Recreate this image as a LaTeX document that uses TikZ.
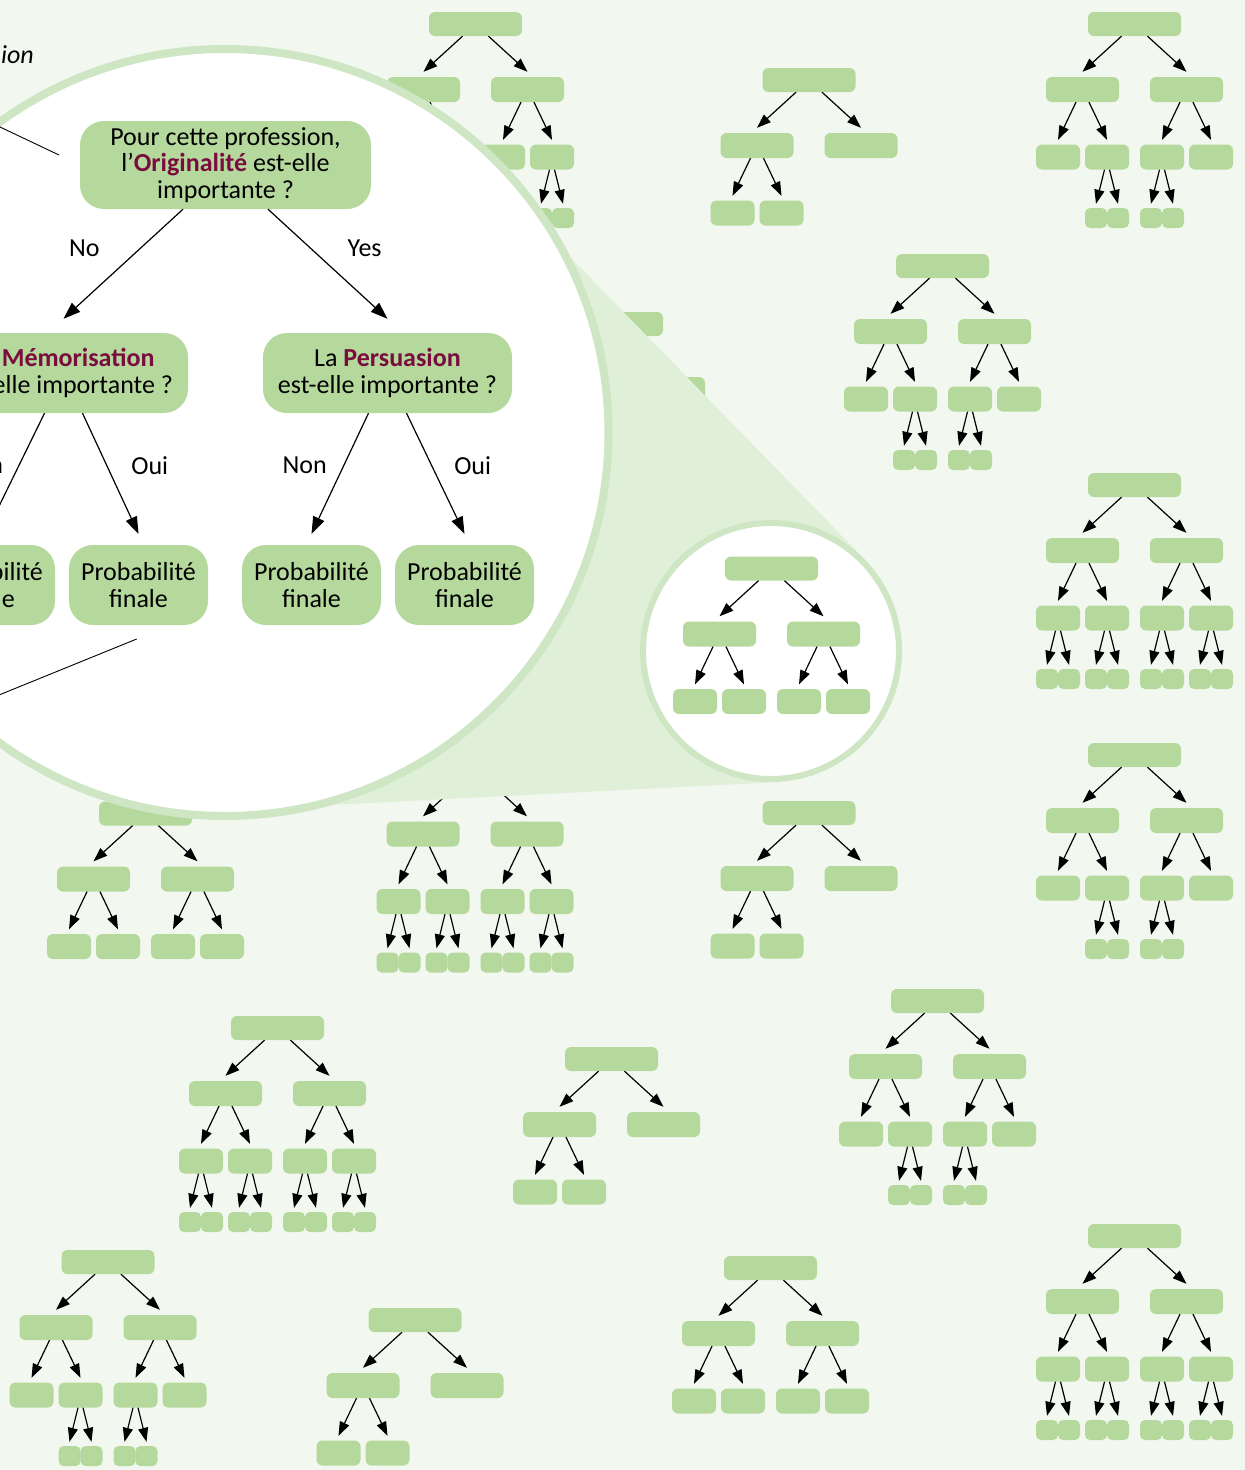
\documentclass[tikz,border=0pt]{standalone}
\usepackage{fontspec}
\setmainfont{Carlito}
\usetikzlibrary{arrows.meta}
\definecolor{bggreen}{RGB}{242,247,239}
\definecolor{boxgreen}{RGB}{181,217,156}
\definecolor{conegreen}{RGB}{224,239,216}
\definecolor{ringgreen}{RGB}{206,230,196}
\definecolor{plum}{RGB}{122,12,62}
\newcommand{\boxfont}{\fontsize{26}{26.5}\selectfont}
\newcommand{\hl}[1]{\textcolor{plum}{\textbf{#1}}}
\tikzset{
  rootbox/.style={fill=boxgreen, rounded corners=6pt, inner sep=0pt,
    minimum width=93pt, minimum height=24pt},
  kidbox/.style={rootbox, minimum width=73pt, minimum height=25pt},
  gkidbox/.style={rootbox, minimum width=44pt, minimum height=25pt},
  leafbox/.style={rootbox, rounded corners=5pt, minimum width=22pt, minimum height=20pt},
  branch/.style={line width=1.2pt, -{Triangle[length=14pt,width=10pt]}},
  qbox/.style={fill=boxgreen, rounded corners=24pt, align=center, font=\boxfont, inner sep=0pt},
  endbox/.style={qbox, minimum width=139pt, minimum height=80pt},
  bigbranch/.style={line width=1.2pt, -{Triangle[length=17pt,width=12pt]}},
  answer/.style={font=\boxfont, inner sep=0pt},
  ring/.style={draw=ringgreen, fill=white}
}
% one split: parent, child style, dx, dy, start offset, gap
\newcommand{\treefork}[6]{%
  \node[#2] (#1l) at ([shift={(-#3,#4)}]#1.center) {};
  \node[#2] (#1r) at ([shift={(#3,#4)}]#1.center) {};
  \draw[branch] ([xshift=-#5pt]#1.south) -- ([yshift=#6pt]#1l.north);
  \draw[branch] ([xshift=#5pt]#1.south) -- ([yshift=#6pt]#1r.north);
}
\newcommand{\treeA}[3]{%
  \node[rootbox] (#1) at (#2,#3) {};
  \treefork{#1}{kidbox}{52}{65.5}{13}{5}
  \treefork{#1l}{gkidbox}{24.5}{67.5}{6.5}{4.5}
}
\newcommand{\treeB}[3]{%
  \treeA{#1}{#2}{#3}
  \treefork{#1r}{gkidbox}{24.5}{67.5}{6.5}{4.5}
}
\newcommand{\treeC}[3]{%
  \treeB{#1}{#2}{#3}
  \treefork{#1lr}{leafbox}{11}{61}{2.5}{4}
  \treefork{#1rl}{leafbox}{11}{61}{2.5}{4}
}
\newcommand{\treeD}[3]{%
  \treeC{#1}{#2}{#3}
  \treefork{#1ll}{leafbox}{11}{61}{2.5}{4}
  \treefork{#1rr}{leafbox}{11}{61}{2.5}{4}
}

\begin{document}
\begin{tikzpicture}[x=1pt,y=-1pt]
      \useasboundingbox (0,0) rectangle (1245,1470);
      \clip (0,0) rectangle (1245,1470);
      \fill[bggreen] (0,0) rectangle (1245,1470);
      \node[font=\boxfont\itshape, anchor=base east, inner sep=0pt] (caption) at (34,63) {ion};

      % the forest
      \treeD{t1}{475.5}{24}
      \treeA{t2}{809}{80}
      \treeC{t3}{1134.5}{24}
      \treeC{t4}{942.5}{266}
      \treeB{t18}{616.5}{324}
      \treeD{t5}{1134.5}{485}
      \treeC{t7}{1134.5}{755}
      \treeA{t8}{809}{813}
      \treeD{t9}{475}{768.5}
      \treeB{t10}{145.5}{813.5}
      \treeD{t11}{277.5}{1028}
      \treeA{t12}{611.5}{1059}
      \treeC{t13}{937.5}{1001}
      \treeD{t14}{1134.5}{1236}
      \treeC{t15}{108}{1262}
      \treeA{t16}{415}{1320}
      \treeB{t17}{770.5}{1268}

      % magnifier
      \fill[conegreen] (523,209) -- (864.8,559.5) -- (778,782) -- (280,807.6) -- cycle;
      \draw[ring, line width=8pt] (225,432.5) circle (383.5pt);
      \draw[ring, line width=6pt] (771,651) circle (128pt);
      \treeB{t6}{771.5}{568.5}

      % zoomed tree
      \node[qbox, minimum width=291pt, minimum height=88pt] (q0) at (225.5,165)
        {Pour cette profession,\\l’\hl{Originalité} est-elle\\importante ?};
      \node[qbox, minimum width=249pt, minimum height=80pt] (q1) at (63.5,373)
        {La \hl{Mémorisation}\\est-elle importante ?};
      \node[qbox, minimum width=249pt, minimum height=80pt] (q2) at (387.5,373)
        {La \hl{Persuasion}\\est-elle importante ?};
      \node[endbox] (p1) at (-14.5,585) {Probabilité\\finale};
      \node[endbox] (p2) at (138.5,585) {Probabilité\\finale};
      \node[endbox] (p3) at (311.5,585) {Probabilité\\finale};
      \node[endbox] (p4) at (464.5,585) {Probabilité\\finale};
      \draw[bigbranch] ([xshift=-42.5pt]q0.south) -- node[answer, pos=.357, xshift=-56pt] {No} ([yshift=14pt]q1.north);
      \draw[bigbranch] ([xshift=42.5pt]q0.south) -- node[answer, pos=.357, xshift=54pt] {Yes} ([yshift=14pt]q2.north);
      \draw[bigbranch] ([xshift=-19pt]q1.south) -- node[answer, pos=.434, xshift=-38pt] {Non} ([yshift=11pt]p1.north);
      \draw[bigbranch] ([xshift=19pt]q1.south) -- node[answer, pos=.434, xshift=43pt] {Oui} ([yshift=11pt]p2.north);
      \draw[bigbranch] ([xshift=-19pt]q2.south) -- node[answer, pos=.434, xshift=-39pt] {Non} ([yshift=11pt]p3.north);
      \draw[bigbranch] ([xshift=19pt]q2.south) -- node[answer, pos=.434, xshift=41pt] {Oui} ([yshift=11pt]p4.north);

      % pointers from the left
      \coordinate (in1) at (-60,98.5);
      \coordinate (out1) at (59,155);
      \coordinate (in2) at (-60,719);
      \coordinate (out2) at (136.7,639);
      \draw[line width=0.9pt] (in1) -- (out1);
      \draw[line width=0.9pt] (in2) -- (out2);
\end{tikzpicture}
\end{document}
